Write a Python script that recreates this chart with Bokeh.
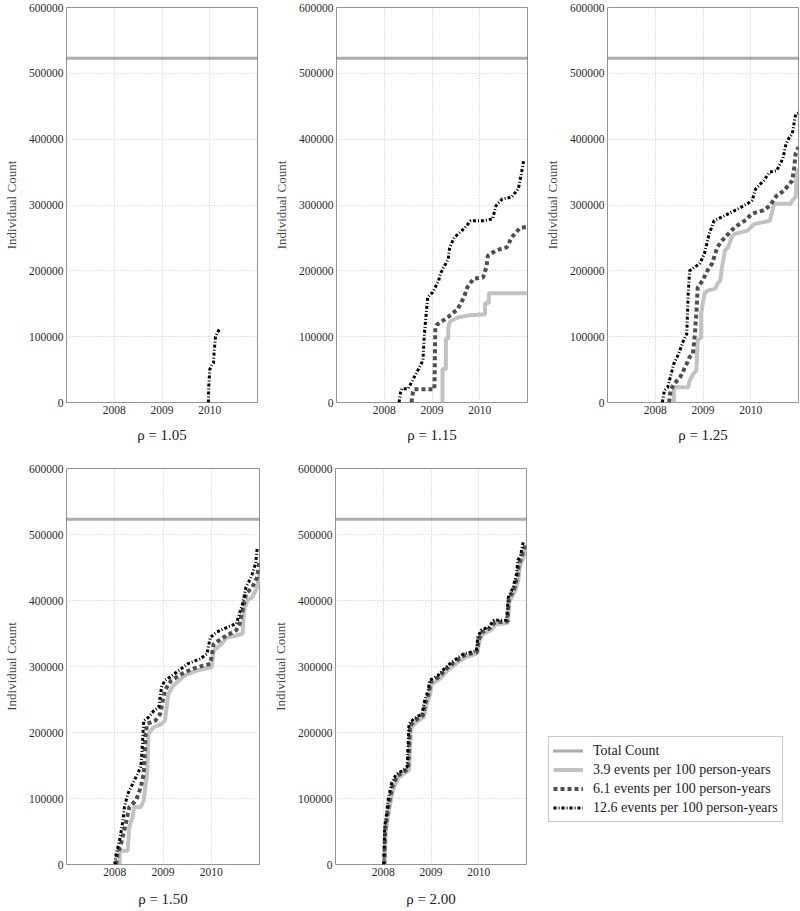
from bokeh.plotting import figure
from bokeh.layouts import column, row
from bokeh.models import FixedTicker, Legend, LegendItem, BasicTickFormatter, Range1d
from bokeh.embed import file_html
from bokeh.resources import INLINE

# ---------------- data ----------------
YEAR_TICKS = [2008, 2009, 2010]
COUNT_TICKS = [0, 100000, 200000, 300000, 400000, 500000, 600000]
X_START, X_END = 2007.0, 2011.0
Y_MAX = 600000
TOTAL_COUNT = 523000

RHO_LABELS = ["\u03c1 = 1.05", "\u03c1 = 1.15", "\u03c1 = 1.25", "\u03c1 = 1.50", "\u03c1 = 2.00"]
SERIES_LABELS = ["Total Count", "3.9 events per 100 person-years",
                 "6.1 events per 100 person-years", "12.6 events per 100 person-years"]

# rho = 1.05 (only the 12.6 series appears)
r105_x126 = [2009.97, 2009.98, 2010.00, 2010.04, 2010.08, 2010.09, 2010.12, 2010.16, 2010.20]
r105_y126 = [0, 25000, 50000, 56000, 60000, 75000, 100000, 106000, 111000]

# rho = 1.15
r115_x39 = [2009.22, 2009.22, 2009.29, 2009.29, 2009.34, 2009.34, 2009.37, 2009.45, 2009.54,
            2009.74, 2010.11, 2010.11, 2010.19, 2010.19, 2011.0]
r115_y39 = [0, 51000, 51000, 97000, 97000, 112000, 122000, 126000, 129000,
            132000, 134000, 151000, 151000, 166000, 166000]
r115_x61 = [2008.57, 2008.60, 2008.62, 2009.05, 2009.07, 2009.10, 2009.34, 2009.54, 2009.67,
            2009.74, 2009.87, 2010.07, 2010.14, 2010.17, 2010.34, 2010.57, 2010.67, 2010.84, 2011.0]
r115_y61 = [0, 15000, 20000, 20000, 114000, 118000, 130000, 142000, 160000,
            175000, 188000, 190000, 206000, 223000, 231000, 236000, 251000, 265000, 267000]
r115_x126 = [2008.31, 2008.34, 2008.37, 2008.50, 2008.61, 2008.74, 2008.81, 2008.84, 2008.91,
             2009.01, 2009.14, 2009.17, 2009.34, 2009.37, 2009.47, 2009.67, 2009.81, 2010.07,
             2010.27, 2010.34, 2010.47, 2010.67, 2010.81, 2010.87, 2010.92]
r115_y126 = [0, 15000, 21000, 21000, 36000, 54000, 64000, 104000, 160000,
             167000, 185000, 195000, 218000, 236000, 251000, 264000, 276000, 276000,
             279000, 299000, 309000, 312000, 325000, 347000, 368000]

# rho = 1.25
r125_x39 = [2008.39, 2008.39, 2008.69, 2008.72, 2008.79, 2008.86, 2008.89, 2008.96, 2008.96,
            2009.03, 2009.09, 2009.26, 2009.30, 2009.36, 2009.40, 2009.46, 2009.53, 2009.60,
            2009.66, 2009.93, 2010.00, 2010.07, 2010.40, 2010.44, 2010.47, 2010.50, 2010.84,
            2010.87, 2010.94, 2010.97, 2011.0]
r125_y39 = [0, 23000, 23000, 33000, 43000, 49000, 94000, 99000, 135000,
            165000, 170000, 173000, 180000, 185000, 206000, 231000, 236000, 251000,
            256000, 261000, 266000, 271000, 276000, 287000, 297000, 302000, 302000,
            307000, 312000, 352000, 355000]
r125_x61 = [2008.29, 2008.32, 2008.39, 2008.52, 2008.66, 2008.72, 2008.79, 2008.83, 2008.86,
            2008.89, 2008.99, 2009.09, 2009.19, 2009.30, 2009.40, 2009.53, 2009.66, 2009.87,
            2010.03, 2010.27, 2010.40, 2010.54, 2010.70, 2010.81, 2010.87, 2010.91, 2010.94, 2011.0]
r125_y61 = [0, 18000, 28000, 38000, 59000, 69000, 74000, 104000, 135000,
            175000, 185000, 200000, 211000, 236000, 246000, 256000, 266000, 276000,
            287000, 292000, 299000, 314000, 322000, 332000, 337000, 357000, 378000, 388000]
r125_x126 = [2008.15, 2008.19, 2008.26, 2008.39, 2008.49, 2008.59, 2008.66, 2008.69, 2008.72,
             2008.93, 2009.03, 2009.13, 2009.23, 2009.46, 2009.73, 2009.93, 2010.03, 2010.10,
             2010.27, 2010.40, 2010.54, 2010.67, 2010.74, 2010.81, 2010.87, 2010.94, 2011.0]
r125_y126 = [0, 18000, 23000, 59000, 74000, 94000, 104000, 165000, 200000,
             211000, 226000, 256000, 276000, 284000, 294000, 302000, 307000, 324000,
             337000, 350000, 352000, 370000, 393000, 403000, 408000, 438000, 440000]

# rho = 1.50
r150_x39 = [2008.10, 2008.11, 2008.27, 2008.30, 2008.37, 2008.40, 2008.54, 2008.60, 2008.67,
            2008.70, 2008.81, 2008.97, 2009.04, 2009.11, 2009.21, 2009.44, 2009.71, 2010.01,
            2010.05, 2010.21, 2010.32, 2010.52, 2010.65, 2010.68, 2010.75, 2010.85, 2010.95, 2011.0]
r150_y39 = [0, 21000, 21000, 56000, 72000, 87000, 87000, 97000, 137000,
            198000, 208000, 213000, 218000, 258000, 271000, 286000, 294000, 299000,
            324000, 334000, 344000, 347000, 350000, 385000, 400000, 405000, 420000, 440000]
r150_x61 = [2008.03, 2008.06, 2008.13, 2008.23, 2008.30, 2008.44, 2008.54, 2008.60, 2008.64,
            2008.67, 2008.84, 2008.94, 2009.04, 2009.17, 2009.44, 2009.71, 2009.98, 2010.05,
            2010.25, 2010.52, 2010.59, 2010.65, 2010.72, 2010.85, 2010.95, 2011.0]
r150_y61 = [0, 16000, 31000, 62000, 87000, 97000, 117000, 137000, 198000,
            213000, 218000, 228000, 264000, 279000, 291000, 299000, 304000, 334000,
            344000, 355000, 365000, 385000, 410000, 420000, 435000, 460000]
r150_x126 = [2008.00, 2008.03, 2008.10, 2008.17, 2008.20, 2008.27, 2008.37, 2008.47, 2008.54,
             2008.57, 2008.60, 2008.70, 2008.81, 2008.91, 2008.97, 2009.04, 2009.24, 2009.51,
             2009.78, 2009.91, 2009.98, 2010.11, 2010.35, 2010.52, 2010.65, 2010.72, 2010.79,
             2010.85, 2010.92, 2010.95]
r150_y126 = [0, 16000, 36000, 67000, 87000, 107000, 122000, 137000, 148000,
             178000, 218000, 223000, 233000, 238000, 269000, 279000, 289000, 304000,
             312000, 319000, 344000, 352000, 360000, 365000, 395000, 420000, 430000,
             440000, 456000, 478000]

# rho = 2.00
r200_x39 = [2008.03, 2008.05, 2008.09, 2008.14, 2008.21, 2008.31, 2008.44, 2008.54, 2008.58,
            2008.68, 2008.85, 2008.91, 2008.98, 2009.01, 2009.18, 2009.35, 2009.52, 2009.72,
            2009.97, 2010.01, 2010.08, 2010.25, 2010.36, 2010.61, 2010.64, 2010.76, 2010.83,
            2010.86, 2010.92, 2010.97, 2011.0]
r200_y39 = [0, 48000, 70000, 90000, 115000, 131000, 138000, 143000, 207000,
            215000, 223000, 243000, 258000, 273000, 281000, 294000, 304000, 314000,
            320000, 338000, 349000, 355000, 364000, 366000, 398000, 414000, 432000,
            452000, 462000, 475000, 478000]
r200_x61 = [2008.02, 2008.04, 2008.08, 2008.12, 2008.19, 2008.29, 2008.42, 2008.52, 2008.56,
            2008.66, 2008.83, 2008.89, 2008.96, 2008.99, 2009.16, 2009.33, 2009.50, 2009.70,
            2009.96, 2010.00, 2010.07, 2010.23, 2010.34, 2010.60, 2010.63, 2010.74, 2010.81,
            2010.84, 2010.90, 2010.95, 2011.0]
r200_y61 = [0, 52000, 73000, 93000, 118000, 134000, 140000, 145000, 210000,
            218000, 226000, 246000, 261000, 276000, 284000, 297000, 307000, 317000,
            322000, 341000, 352000, 358000, 367000, 368000, 402000, 417000, 436000,
            456000, 466000, 480000, 482000]
r200_x126 = [2008.01, 2008.03, 2008.07, 2008.10, 2008.17, 2008.27, 2008.40, 2008.50, 2008.54,
             2008.64, 2008.81, 2008.87, 2008.94, 2008.97, 2009.14, 2009.31, 2009.48, 2009.68,
             2009.95, 2009.98, 2010.05, 2010.21, 2010.32, 2010.58, 2010.62, 2010.72, 2010.79,
             2010.82, 2010.88, 2010.93]
r200_y126 = [0, 57000, 77000, 97000, 122000, 137000, 142000, 148000, 213000,
             221000, 228000, 249000, 264000, 279000, 286000, 299000, 309000, 319000,
             324000, 344000, 355000, 360000, 370000, 370000, 405000, 420000, 440000,
             461000, 470000, 488000]

# ---------------- styles ----------------
SERIF = "Liberation Serif"
STYLE_TOTAL = dict(line_color="#5a5a5a", line_width=3, line_dash="1 1")
STYLE_39 = dict(line_color="#c2c2c2", line_width=4)
STYLE_61 = dict(line_color="#4f4f4f", line_width=4, line_dash="4 3")
STYLE_126 = dict(line_color="#000000", line_width=3, line_dash="3 2 1 2")

FRAME_W = 199


def make_panel(label, x39, y39, x61, y61, x126, y126, bl, br, height, bt, bb, title_gap):
    p = figure(width=bl + FRAME_W + br, height=height,
               x_range=Range1d(X_START, X_END), y_range=Range1d(0, Y_MAX),
               min_border_left=bl, min_border_right=br,
               min_border_top=bt, min_border_bottom=bb,
               toolbar_location=None, output_backend="svg")
    p.outline_line_color = "#939393"
    p.outline_line_width = 1
    p.background_fill_color = "white"
    p.border_fill_color = "white"

    p.line([X_START, X_END], [TOTAL_COUNT, TOTAL_COUNT], **STYLE_TOTAL)
    if x39:
        p.line(x39, y39, **STYLE_39)
    if x61:
        p.line(x61, y61, **STYLE_61)
    if x126:
        p.line(x126, y126, **STYLE_126)

    p.xaxis.ticker = FixedTicker(ticks=YEAR_TICKS)
    p.yaxis.ticker = FixedTicker(ticks=COUNT_TICKS)
    p.yaxis.formatter = BasicTickFormatter(use_scientific=False)
    for ax in (p.xaxis[0], p.yaxis[0]):
        ax.axis_line_color = None
        ax.major_tick_line_color = None
        ax.minor_tick_line_color = None
        ax.major_tick_out = 0
        ax.major_tick_in = 0
        ax.minor_tick_out = 0
        ax.major_label_text_font = SERIF
        ax.major_label_text_font_size = "11.5px"
        ax.major_label_text_color = "#2a2a2a"
        ax.major_label_standoff = 3
        ax.axis_label_text_font = SERIF
        ax.axis_label_text_font_style = "normal"
    p.yaxis.axis_label = "Individual Count"
    p.yaxis.axis_label_text_font_size = "13px"
    p.yaxis.axis_label_text_color = "#444444"
    p.yaxis.axis_label_standoff = 7
    p.xaxis.axis_label = label
    p.xaxis.axis_label_text_font_size = "15px"
    p.xaxis.axis_label_text_color = "#222222"
    p.xaxis.axis_label_standoff = title_gap

    for g in (p.xgrid[0], p.ygrid[0]):
        g.grid_line_color = "#c8c8c8"
        g.grid_line_dash = "1 2"
        g.grid_line_width = 1
    p.xgrid.ticker = FixedTicker(ticks=YEAR_TICKS)
    p.ygrid.ticker = FixedTicker(ticks=COUNT_TICKS)
    return p


TOP_H, TOP_BT, TOP_BB = 460, 7, 58
BOT_H, BOT_BT, BOT_BB = 451, 8, 47

p1 = make_panel(RHO_LABELS[0], [], [], [], [], r105_x126, r105_y126,
                58, 13, TOP_H, TOP_BT, TOP_BB, 10)
p2 = make_panel(RHO_LABELS[1], r115_x39, r115_y39, r115_x61, r115_y61, r115_x126, r115_y126,
                58, 14, TOP_H, TOP_BT, TOP_BB, 10)
p3 = make_panel(RHO_LABELS[2], r125_x39, r125_y39, r125_x61, r125_y61, r125_x126, r125_y126,
                58, 2, TOP_H, TOP_BT, TOP_BB, 10)
p4 = make_panel(RHO_LABELS[3], r150_x39, r150_y39, r150_x61, r150_y61, r150_x126, r150_y126,
                60, 10, BOT_H, BOT_BT, BOT_BB, 12)
p5 = make_panel(RHO_LABELS[4], r200_x39, r200_y39, r200_x61, r200_y61, r200_x126, r200_y126,
                58, 14, BOT_H, BOT_BT, BOT_BB, 12)

# legend panel (renderers hold points outside the visible range; only the legend shows)
p6 = figure(width=260, height=BOT_H, x_range=Range1d(0, 1), y_range=Range1d(0, 1),
            x_axis_type=None, y_axis_type=None, min_border=0,
            toolbar_location=None, output_backend="svg")
p6.outline_line_color = None
p6.xgrid.visible = False
p6.ygrid.visible = False
HIDDEN_X = [5, 6]
HIDDEN_Y = [5, 5]
rt = p6.line(HIDDEN_X, HIDDEN_Y, **STYLE_TOTAL)
r39 = p6.line(HIDDEN_X, HIDDEN_Y, **STYLE_39)
r61 = p6.line(HIDDEN_X, HIDDEN_Y, **STYLE_61)
r126 = p6.line(HIDDEN_X, HIDDEN_Y, **STYLE_126)
legend = Legend(items=[LegendItem(label=SERIES_LABELS[0], renderers=[rt]),
                       LegendItem(label=SERIES_LABELS[1], renderers=[r39]),
                       LegendItem(label=SERIES_LABELS[2], renderers=[r61]),
                       LegendItem(label=SERIES_LABELS[3], renderers=[r126])],
                location=(8, 42))
legend.border_line_color = "#939393"
legend.border_line_width = 1
legend.background_fill_color = "white"
legend.background_fill_alpha = 1
legend.label_text_font = SERIF
legend.label_text_font_size = "14px"
legend.label_text_color = "#222222"
legend.glyph_width = 30
legend.glyph_height = 19
legend.label_height = 19
legend.label_standoff = 10
legend.padding = 4
legend.spacing = 0
legend.margin = 0
p6.add_layout(legend)

layout = column(row(p1, p2, p3), row(p4, p5, p6))
open("out.html", "w").write(file_html(layout, INLINE))
